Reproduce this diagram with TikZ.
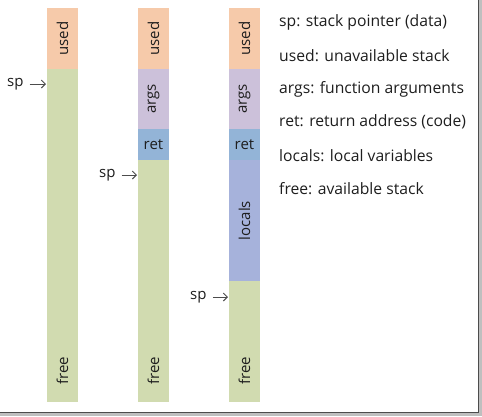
\documentclass[tikz,border=0pt]{standalone}
\usepackage{fontspec}
\setmainfont{Open Sans}
\usetikzlibrary{arrows.meta}
\definecolor{usedc}{HTML}{F6CAAA}
\definecolor{argsc}{HTML}{CCC1DA}
\definecolor{retc}{HTML}{93B4D7}
\definecolor{localc}{HTML}{A6B2DB}
\definecolor{freec}{HTML}{D1DBB0}
\definecolor{txt}{HTML}{1E1E1E}
\begin{document}
\begin{tikzpicture}[x=1pt,y=-1pt,
  seg/.style={inner sep=0pt, outer sep=0pt, minimum width=31pt, anchor=north west},
  rot/.style={rotate=90, inner sep=0pt, font=\fontsize{15}{17}\selectfont, text=txt},
  lbl/.style={inner sep=0pt, font=\fontsize{15}{17}\selectfont, text=txt},
  leg/.style={inner sep=0pt, anchor=west, font=\fontsize{15.7}{18}\selectfont, text=txt},
  sparrow/.style={draw=black!70, line width=1pt, -{Straight Barb[length=4pt,width=8pt]}}]
\useasboundingbox (0,0) rectangle (482,416);
% shadow frame
\fill[black!25] (0,413) rectangle (482,416);
\fill[black!25] (479,0) rectangle (482,416);
\draw[black!70, line width=1.5pt] (0,412.5) -- (478.5,412.5) -- (478.5,0);
% column 1
\node[seg, fill=usedc, minimum height=61pt] (u1) at (47,8) {};
\node[seg, fill=freec, minimum height=333pt] (f1) at (47,69) {};
\node[rot] at (u1.center) {used};
\node[rot] (fl1) at (62.5,371) {free};
% column 2
\node[seg, fill=usedc, minimum height=61pt] (u2) at (138,8) {};
\node[seg, fill=argsc, minimum height=60pt] (a2) at (138,69) {};
\node[seg, fill=retc, minimum height=31pt] (r2) at (138,129) {};
\node[seg, fill=freec, minimum height=242pt] (f2) at (138,160) {};
\node[rot] at (u2.center) {used};
\node[rot] at (a2.center) {args};
\node[lbl] at (r2.center) {ret};
\node[rot] (fl2) at (153.5,371) {free};
% column 3
\node[seg, fill=usedc, minimum height=61pt] (u3) at (229,8) {};
\node[seg, fill=argsc, minimum height=60pt] (a3) at (229,69) {};
\node[seg, fill=retc, minimum height=31pt] (r3) at (229,129) {};
\node[seg, fill=localc, minimum height=121pt] (l3) at (229,160) {};
\node[seg, fill=freec, minimum height=121pt] (f3) at (229,281) {};
\node[rot] at (u3.center) {used};
\node[rot] at (a3.center) {args};
\node[lbl] at (r3.center) {ret};
\node[rot] at (l3.center) {locals};
\node[rot] (fl3) at (244.5,371) {free};
% stack pointers
\node[lbl, anchor=west] (sp1) at (7,84) {sp};
\coordinate (t1) at (46,84);
\draw[sparrow] (sp1.east) ++(6pt,0) -- (t1);
\node[lbl, anchor=west] (sp2) at (99,175) {sp};
\coordinate (t2) at (137,175);
\draw[sparrow] (sp2.east) ++(6pt,0) -- (t2);
\node[lbl, anchor=west] (sp3) at (190,297) {sp};
\coordinate (t3) at (228,297);
\draw[sparrow] (sp3.east) ++(6pt,0) -- (t3);
% legend
\node[leg] (g1) at (279,22) {sp: stack pointer (data)};
\node[leg] (g2) at (279,56) {used: unavailable stack};
\node[leg] (g3) at (279,89) {args: function arguments};
\node[leg] (g4) at (279,122) {ret: return address (code)};
\node[leg] (g5) at (279,156) {locals: local variables};
\node[leg] (g6) at (279,189) {free: available stack};
\end{tikzpicture}
\end{document}
